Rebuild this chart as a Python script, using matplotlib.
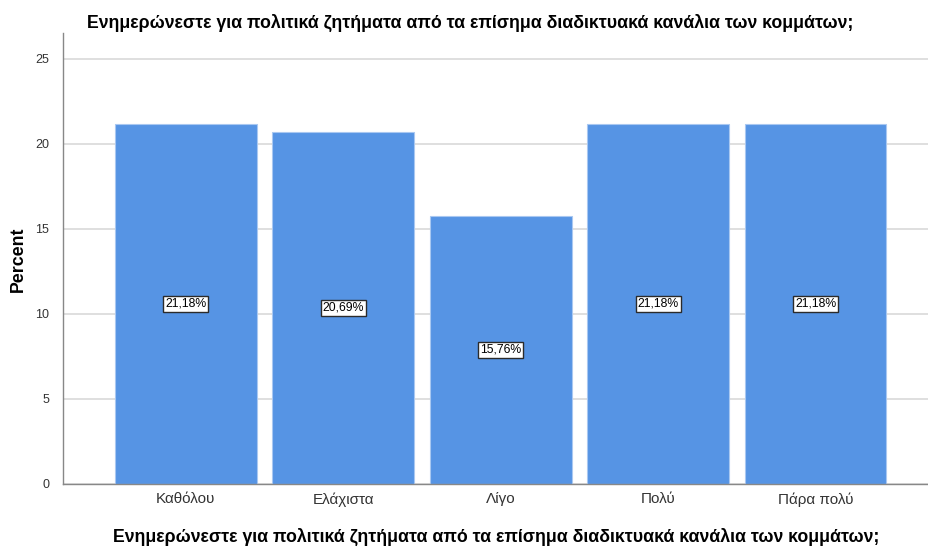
import matplotlib
matplotlib.use("Agg")
import matplotlib.pyplot as plt

categories = ["Καθόλου", "Ελάχιστα", "Λίγο", "Πολύ", "Πάρα πολύ"]
percents = [21.18, 20.69, 15.76, 21.18, 21.18]
yticks = [0, 5, 10, 15, 20, 25]
question = "Ενημερώνεστε για πολιτικά ζητήματα από τα επίσημα διαδικτυακά κανάλια των κομμάτων;"

plt.rcParams["font.family"] = ["Liberation Sans", "DejaVu Sans"]

fig = plt.figure(figsize=(9.29, 5.47), dpi=100)
ax = fig.add_axes([63 / 929, 1 - 484 / 547, 1 - 63 / 929, (484 - 33) / 547])

x = list(range(len(categories)))
ax.bar(x, percents, width=0.9, color="#5694e4", edgecolor="#a9c8f1", linewidth=0.8, zorder=2)

for xi, v in zip(x, percents):
    ax.text(xi, v / 2, f"{v:.2f}%".replace(".", ","), ha="center", va="center",
            fontsize=8.8, color="#000000", zorder=3,
            bbox=dict(boxstyle="square,pad=0.15", facecolor="white", edgecolor="#2b2b2b", linewidth=1.0))

ax.set_xlim(-0.78, 4.72)
ax.set_ylim(0, 26.5)
ax.set_yticks(yticks)
ax.set_xticks(x)
ax.set_xticklabels(categories, fontsize=11, color="#333333")
ax.tick_params(axis="y", labelsize=9, labelcolor="#333333", length=0, pad=10)
ax.tick_params(axis="x", length=0, pad=6)
ax.grid(axis="y", color="#d9d9d9", linewidth=1.2, zorder=1)
ax.set_axisbelow(True)
for side in ("top", "right"):
    ax.spines[side].set_visible(False)
for side in ("left", "bottom"):
    ax.spines[side].set_color("#888888")
    ax.spines[side].set_linewidth(1.0)

ax.set_ylabel("Percent", fontsize=12.8, fontweight="bold")
ax.yaxis.set_label_coords((27 - 63) / 866, (484 - 259) / 451)
ax.set_xlabel(question, fontsize=12.8, fontweight="bold", labelpad=15)
fig.text(470 / 929, 1 - 23 / 547, question, ha="center", va="center",
         fontsize=12.8, fontweight="bold")

fig.savefig("out.png", dpi=100)
